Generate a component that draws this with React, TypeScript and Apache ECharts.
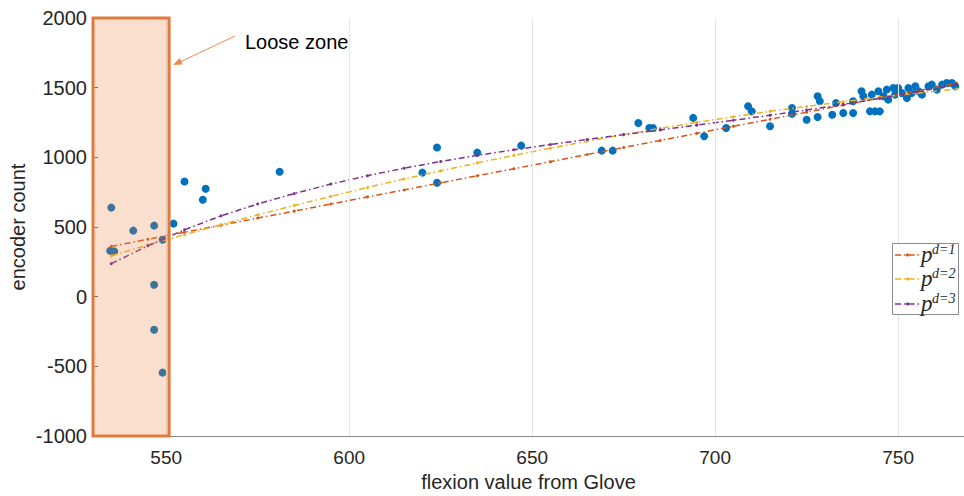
import React, { useEffect, useRef } from "react";
import * as echarts from "echarts";

// Measured data (flexion value from Glove vs encoder count)
const flexion: number[] = [
  535.0, 534.7, 535.8, 541, 546.7, 549, 546.7, 546.7, 549, 552, 555, 560, 560.8, 581,
  620, 624, 624, 635, 647, 669, 672, 679, 682, 683, 694, 697, 703, 709, 710, 715,
  721, 721, 725, 728, 728.6, 728, 732, 733, 735, 737.7, 737.7, 740, 740.5, 742.3,
  743.7, 745, 742.8, 744.6, 746, 746.9, 747.3, 748.7, 749.2, 750, 751, 752.4, 752.8,
  753.7, 754.7, 755.6, 756.5, 758.3, 759.2, 760.6, 762, 763.3, 764.7, 765.6,
];
const encoder: number[] = [
  639, 330, 325, 474, 510, 409, 86, -237, -545, 524, 826, 696, 775, 897,
  890, 1070, 818, 1034, 1084, 1048, 1048, 1247, 1211, 1211, 1283, 1151, 1211, 1366, 1330, 1223,
  1354, 1312, 1270, 1438, 1402, 1290, 1306, 1390, 1318, 1318, 1402, 1474, 1438, 1330,
  1330, 1330, 1450, 1474, 1438, 1486, 1414, 1498, 1450, 1498, 1462, 1426, 1498,
  1462, 1510, 1474, 1450, 1510, 1522, 1486, 1522, 1534, 1534, 1510,
];

// Fitted curves
const fitX: number[] = [
  535, 545, 555, 565, 575, 585, 595, 605, 615, 625, 635, 645, 655, 665, 675, 685,
  695, 705, 715, 725, 735, 745, 755, 766,
];
const fitD1: number[] = [
  361, 412, 462, 513, 564, 614, 665, 716, 766, 817, 868, 918, 969, 1020, 1071, 1121,
  1172, 1223, 1273, 1324, 1375, 1425, 1476, 1532,
];
const fitD2: number[] = [
  294, 371, 445, 517, 587, 655, 720, 784, 845, 903, 960, 1014, 1066, 1115, 1163, 1208,
  1251, 1291, 1330, 1365, 1399, 1431, 1460, 1490,
];
const fitD3: number[] = [
  237, 365, 480, 580, 665, 740, 808, 868, 922, 970, 1014, 1054, 1092, 1128, 1163, 1197,
  1231, 1266, 1302, 1340, 1380, 1424, 1470, 1522,
];

const xTicks: number[] = [550, 600, 650, 700, 750];
const xGridLines: number[] = [550, 600, 650, 700, 750];
const looseZone: number[] = [530, 550.8];

const fitNames = ["d=1", "d=2", "d=3"];
const fitColors = ["#D95319", "#EDB120", "#7E2F8E"];

const FONT = "'Liberation Sans', Arial, sans-serif";
const SERIF = "'Liberation Serif', 'DejaVu Serif', serif";

export default function App() {
  const ref = useRef<HTMLDivElement>(null);

  useEffect(() => {
    if (!ref.current) return;
    const chart = echarts.init(ref.current, undefined, { renderer: "svg" });

    const fits = [fitD1, fitD2, fitD3];
    const dashDot = [6, 3, 1.5, 3];

    const legendRows = [255, 279, 304];
    const legendGraphics: any[] = [
      {
        type: "rect",
        shape: { x: 892.5, y: 243.5, width: 66, height: 71 },
        style: { fill: "#ffffff", stroke: "#8c8c8c", lineWidth: 1 },
        z: 100,
      },
    ];
    legendRows.forEach((y, i) => {
      legendGraphics.push({
        type: "line",
        shape: { x1: 895, y1: y, x2: 920, y2: y },
        style: { stroke: fitColors[i], lineWidth: 1.3, lineDash: dashDot },
        z: 101,
      });
      legendGraphics.push({
        type: "circle",
        shape: { cx: 907.5, cy: y, r: 1.6 },
        style: { fill: fitColors[i] },
        z: 101,
      });
      legendGraphics.push({
        type: "text",
        x: 921,
        y: y - 1,
        style: {
          text: "p",
          font: `italic 23px ${SERIF}`,
          fill: "#262626",
          verticalAlign: "middle",
        },
        z: 101,
      });
      legendGraphics.push({
        type: "text",
        x: 932,
        y: y - 6,
        style: {
          text: fitNames[i],
          font: `italic 14px ${SERIF}`,
          fill: "#262626",
          verticalAlign: "middle",
        },
        z: 101,
      });
    });

    const option: any = {
      animation: false,
      backgroundColor: "#ffffff",
      grid: {
        left: 93,
        right: 0,
        top: 18,
        bottom: 60,
        containLabel: false,
        outerBoundsMode: "none",
      },
      xAxis: {
        type: "value",
        min: 530,
        max: 768,
        name: "flexion value from Glove",
        nameLocation: "middle",
        nameGap: 36,
        nameMoveOverlap: false,
        nameTextStyle: { fontSize: 20, color: "#262626", fontFamily: FONT },
        axisLine: { show: true, onZero: false, lineStyle: { color: "#8a8a8a", width: 1 } },
        axisTick: {
          show: true,
          inside: true,
          length: 5,
          customValues: xTicks,
          lineStyle: { color: "#6e6e6e" },
        },
        axisLabel: {
          customValues: xTicks,
          fontSize: 19,
          color: "#262626",
          fontFamily: FONT,
          margin: 12,
        },
        splitLine: { show: false },
      },
      yAxis: {
        type: "value",
        min: -1000,
        max: 2000,
        interval: 500,
        name: "encoder count",
        nameLocation: "middle",
        nameGap: 65,
        nameMoveOverlap: false,
        nameRotate: 90,
        nameTextStyle: { fontSize: 20, color: "#262626", fontFamily: FONT },
        axisLine: { show: true, onZero: false, lineStyle: { color: "#8a8a8a", width: 1 } },
        axisTick: { show: true, inside: true, length: 5, lineStyle: { color: "#6e6e6e" } },
        axisLabel: {
          fontSize: 20,
          color: "#262626",
          fontFamily: FONT,
          margin: 6,
          formatter: (v: number) => String(v),
        },
        splitLine: { show: false },
      },
      series: [
        {
          type: "scatter",
          name: "grid",
          data: [],
          z: 0,
          silent: true,
          markLine: {
            silent: true,
            symbol: ["none", "none"],
            label: { show: false },
            lineStyle: { color: "#e6e6e6", width: 1, type: "solid" },
            data: xGridLines.map((v) => ({ xAxis: v })),
          },
        },
        {
          type: "scatter",
          name: "data",
          data: flexion.map((x, i) => [x, encoder[i]]),
          symbolSize: 8,
          itemStyle: { color: "#0072BD", opacity: 1 },
          z: 3,
        },
        ...fits.map((f, i) => ({
          type: "line",
          name: fitNames[i],
          data: fitX.map((x, j) => [x, f[j]]),
          showSymbol: true,
          symbol: "circle",
          symbolSize: 3,
          itemStyle: { color: fitColors[i] },
          lineStyle: { color: fitColors[i], width: 1.5, type: dashDot },
          z: 4,
        })),
        {
          type: "scatter",
          name: "zone",
          data: [],
          z: 10,
          silent: true,
          markArea: {
            silent: true,
            z: 10,
            itemStyle: {
              color: "rgba(240,128,60,0.25)",
              borderColor: "#E07B3C",
              borderWidth: 3,
            },
            data: [
              [
                { xAxis: looseZone[0], yAxis: -1000 },
                { xAxis: looseZone[1], yAxis: 2000 },
              ],
            ],
          },
        },
      ],
      graphic: [
        {
          type: "text",
          x: 245,
          y: 42,
          style: {
            text: "Loose zone",
            font: `20px ${FONT}`,
            fill: "#000000",
            verticalAlign: "middle",
          },
          z: 100,
        },
        {
          type: "line",
          shape: { x1: 235, y1: 36, x2: 180, y2: 62 },
          style: { stroke: "#F08A4B", lineWidth: 1 },
          z: 100,
        },
        {
          type: "polygon",
          shape: { points: [[173, 65], [182.6, 64.4], [179.7, 58.1]] },
          style: { fill: "#F08A4B" },
          z: 100,
        },
        ...legendGraphics,
      ],
    };

    chart.setOption(option);
    return () => chart.dispose();
  }, []);

  return (
    <div
      ref={ref}
      style={{ position: "absolute", left: 0, top: 0, width: 964, height: 496 }}
    />
  );
}
